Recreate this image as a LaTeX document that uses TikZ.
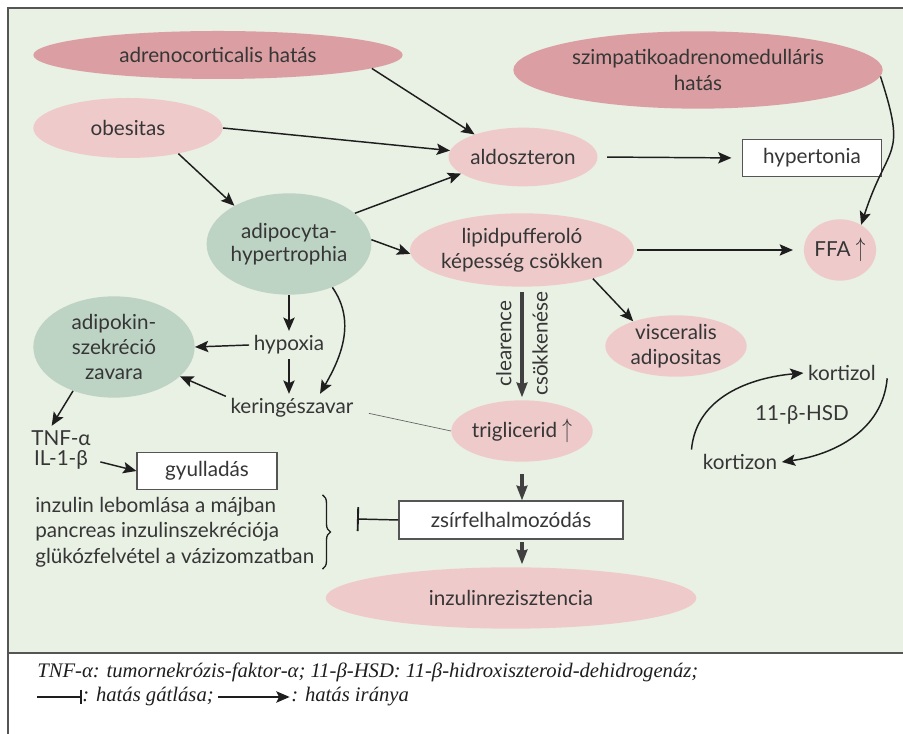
\documentclass[tikz,border=0pt]{standalone}
\usepackage{fontspec}
\setmainfont{Lato}
\newfontfamily\notefont{Liberation Serif}
\usepackage{tikz}
\usetikzlibrary{arrows.meta,calc,shapes.geometric,decorations.pathreplacing}
\definecolor{panel}{HTML}{E9F0E4}
\definecolor{rosedeep}{HTML}{DB9FA3}
\definecolor{rosesoft}{HTML}{EFCACB}
\definecolor{sage}{HTML}{BDD4C5}
\definecolor{ink}{HTML}{1E1E1E}
\definecolor{type}{HTML}{363636}
\definecolor{frame}{HTML}{555555}
\newcommand{\up}{\raisebox{-0.5pt}{\scalebox{1}[1.4]{$\uparrow$}}}

\begin{document}
\begin{tikzpicture}[x=0.75pt,y=0.75pt,>={Stealth[length=10pt,width=8.5pt,inset=2pt]},
   every node/.style={text=type,font=\fontsize{15.5}{19}\selectfont},
   ell/.style={ellipse,inner sep=0pt,align=center},
   deep/.style={ell,fill=rosedeep},
   soft/.style={ell,fill=rosesoft},
   sageell/.style={ell,fill=sage},
   framed/.style={draw=frame,fill=white,line width=0.8pt,inner sep=0pt},
   link/.style={->,draw=ink,line width=1.1pt},
   heavy/.style={-{Stealth[length=11pt,width=8pt,inset=1pt]},draw=ink!85,line width=3pt},
   inh/.style={-{Bar[width=18pt,line width=1.4pt]},draw=ink,line width=1.1pt},
   foot/.style={font=\notefont\itshape\fontsize{15.5}{18}\selectfont,text=ink,inner sep=0pt}]
  \useasboundingbox (0,0) rectangle (903,734);
  % panel and frame
  \fill[panel] (8,81) rectangle (903,726);
  \draw[frame,line width=1.1pt] (8,0) -- (8,726) -- (903,726);
  \draw[frame,line width=1.1pt] (8,81) -- (903,81);
  % top row
  \node[deep,minimum width=277pt,minimum height=36pt] (adreno) at (218,679) {adrenocorticalis hatás};
  \node[deep,minimum width=277pt,minimum height=58pt] (szimp) at (698,664) {szimpatikoadrenomedulláris\\hatás};
  \node[soft,minimum width=142pt,minimum height=45pt] (obes) at (128,606) {obesitas};
  \node[soft,minimum width=106pt,minimum height=44pt] (aldo) at (523,577) {aldoszteron};
  \node[framed,minimum width=104pt,minimum height=28pt] (hyper) at (812,576) {hypertonia};
  % middle
  \node[sageell,minimum width=121pt,minimum height=76pt,font=\fontsize{15.5}{17}\selectfont] (adipo) at (289,490) {adipocyta-\\hypertrophia};
  \node[soft,minimum width=168pt,minimum height=55pt,inner xsep=-9pt] (lipid) at (522,484) {lipidpufferoló\\képesség csökken};
  \node[soft,minimum width=54pt,minimum height=46pt] (ffa) at (840,484) {FFA \up};
  \node[sageell,minimum width=121pt,minimum height=76pt] (adipok) at (114,387) {adipokin-\\szekréció\\zavara};
  \node (hypox) at (289,389) {hypoxia};
  \node (kering) at (292,326) {keringészavar};
  \node[soft,minimum width=106pt,minimum height=46pt,inner ysep=-2pt] (visc) at (676,388) {visceralis\\adipositas};
  \node[soft,minimum width=106pt,minimum height=46pt] (trig) at (522,303) {triglicerid \up};
  \node (kortizol) at (842,361) {kortizol};
  \node (hsd) at (802,319) {11-β-HSD};
  \node (kortizon) at (740,272) {kortizon};
  % lower part
  \node (tnf) at (61,296) {TNF-α};
  \node (il) at (61,274) {IL-1-β};
  \node[framed,minimum width=105pt,minimum height=28pt] (gyull) at (207,263) {gyulladás};
  \node[anchor=west,align=left,inner sep=0pt] (inzlist) at (35,202) {inzulin lebomlása a májban\\pancreas inzulinszekréciója\\glükózfelvétel a vázizomzatban};
  \node[framed,minimum width=168pt,minimum height=28.5pt] (zsir) at (511,214) {zsírfelhalmozódás};
  \node[soft,minimum width=278pt,minimum height=46pt] (inzrez) at (511,136) {inzulinrezisztencia};
  % straight links
  \foreach \a/\b in {adreno.-5/aldo.155,obes.east/aldo.175,obes.-27/adipo.145,adipo.25/aldo.195,
    adipo.3/lipid.182,lipid.-22/visc.150,hypox.west/adipok.east,kering.170/adipok.-24}
    {\draw[link] (\a) -- (\b);}
  \draw[link,shorten <=7pt,shorten >=8pt] (aldo.east) -- (hyper.west);
  \draw[link,shorten <=2pt,shorten >=8pt] (lipid.east) -- (ffa.west);
  \draw[link] (adipo.south) -- (hypox.north);
  \draw[link] (hypox.south) -- (hypox.south |- kering.north);
  \draw[link] (adipok.-133) -- ([xshift=-7pt]tnf.north);
  \draw[link,shorten <=6pt] (il.east) -- (gyull.west);
  % curved links
  \draw[link] (szimp.-2) to[out=-72,in=72,looseness=1.5] (ffa.50);
  \draw[link] (adipo.-45) to[out=-55,in=60] ([xshift=21pt]kering.north);
  \draw[link] ([xshift=-5pt]kortizon.north west) to[out=85,in=185] (kortizol.west);
  \draw[link] ([xshift=5pt,yshift=-4pt]kortizol.east) to[out=-95,in=8] (kortizon.east);
  \draw[draw=ink!70,line width=0.5pt] ([xshift=8pt,yshift=-4pt]kering.east) -- (trig.west);
  % clearence and the main chain
  \draw[heavy,shorten <=4pt,shorten >=2pt] (lipid.south) -- (lipid.south |- trig.north)
    node[midway,rotate=90,above=3pt,font=\fontsize{15.5}{16}\selectfont] {clearence}
    node[midway,rotate=90,below=3pt,font=\fontsize{15.5}{16}\selectfont] {csökkenése};
  \draw[heavy,shorten <=9pt] (trig.south) -- (trig.south |- zsir.north);
  \draw[heavy,shorten <=2pt,shorten >=2pt] (trig.south |- zsir.south) -- (trig.south |- inzrez.north);
  \draw[draw=ink,line width=1pt,decorate,decoration={brace,amplitude=6pt}]
    ($(inzlist.north east)+(8,2)$) -- ($(inzlist.south east)+(8,-2)$);
  \coordinate (inhend) at (357,215);
  \draw[inh] (zsir.west) -- (inhend);
  % footnote
  \node[foot,anchor=west] (note) at (37,62) {TNF-α: tumornekrózis-faktor-α; 11-β-HSD: 11-β-hidroxiszteroid-dehidrogenáz;};
  \coordinate (legi) at (37,37);
  \node[foot,anchor=west] (gatl) at (82,37) {: hatás gátlása;};
  \node[foot,anchor=west] (irany) at ($(gatl.east)+(77,0)$) {: hatás iránya};
  \draw[-{Bar[width=11pt,line width=1.3pt]},draw=ink,line width=1pt] (legi) -- (gatl.west);
  \draw[->,draw=ink,line width=1.1pt,shorten <=3pt,shorten >=1pt] (gatl.east) -- (irany.west);
\end{tikzpicture}
\end{document}
